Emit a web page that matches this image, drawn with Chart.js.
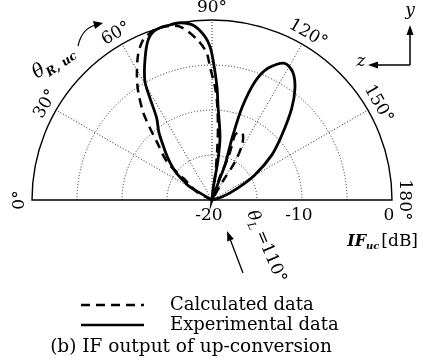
<!DOCTYPE html>
<html>
<head>
<meta charset="utf-8">
<script src="https://cdn.jsdelivr.net/npm/chart.js@4"></script>
<style>
  html, body { margin: 0; padding: 0; background: #fff; }
  canvas { display: block; }
</style>
</head>
<body>
<canvas id="myChart" width="423" height="362"></canvas>
<script>
// polar data: angle in degrees (0 at left, 180 at right), level in dB
const calcAngles = [22, 28, 34.3, 37.2, 40.2, 46.5, 49.3, 51.9, 55.8, 59, 63, 66.5, 70.5, 74, 79.5, 85, 88, 89.1, 91.5, 93, 94.7, 96.1, 97.4, 100, 106, 109, 110.9, 110, 109.5, 112.4, 115.5, 118.6, 121.2, 120, 122];
const calcValues = [-20, -18.1, -17.0, -16.0, -13.5, -11.1, -9.4, -7.6, -5.4, -3.8, -1.9, -0.7, -0.1, 0, -0.4, -2.2, -3.7, -5.2, -7.4, -9.2, -11.9, -14.7, -17.4, -20, -20, -17.0, -15.0, -13.5, -12.3, -11.8, -12.0, -13.0, -15.1, -17.5, -20];

const expAngles = [25, 30, 31, 34, 36.3, 39.4, 44, 48.3, 52, 56, 58.7, 60.6, 64.7, 68.4, 71.7, 76, 80, 84, 87.5, 89.3, 90.4, 92.5, 93.7, 97.2, 98.5, 96, 99, 106, 110, 110.4, 108, 108, 110, 113, 118, 122.3, 126.5, 131, 137.1, 143.1, 149.8, 155.2, 163, 170];
const expValues = [-20, -19.2, -17.0, -16.2, -15.3, -14.4, -13.1, -11.8, -10.4, -9.0, -6.7, -4.8, -2.6, -0.8, -0.1, 0, 0, -0.5, -1.8, -3.0, -4.4, -7.4, -9.6, -12.9, -15.5, -18.6, -20, -20, -17.5, -15.9, -12.8, -9.2, -6.0, -4.1, -2.8, -3.2, -4.5, -6.5, -9.4, -11.7, -14.5, -16.8, -18.8, -20];

const angleTicks = [0, 30, 60, 90, 120, 150, 180];
const gridLevels = [-15, -10, -5];
const levelLabels = [-20, -10, 0];
const rMin = -20;
const rMax = 0;

function toXY(angle, db) {
    let r = Math.max(db, rMin) - rMin;
    let a = angle * Math.PI / 180;
    return { x: -r * Math.cos(a), y: r * Math.sin(a) };
}

const calcPoints = calcAngles.map((a, i) => toXY(a, calcValues[i]));
const expPoints = expAngles.map((a, i) => toXY(a, expValues[i]));

const SERIF = '"DejaVu Serif", serif';

// draws the half-polar grid, tick labels, annotations and legend
const polarFrame = {
    id: 'polarFrame',
    beforeDatasetsDraw(chart) {
        const c = chart.ctx;
        const xs = chart.scales.x, ys = chart.scales.y;
        const cx = xs.getPixelForValue(0), cy = ys.getPixelForValue(0);
        const R = xs.getPixelForValue(rMax - rMin) - cx;
        const px = v => (v - rMin) / (rMax - rMin) * R;
        c.save();
        c.strokeStyle = '#222';
        c.lineWidth = 1;
        c.setLineDash([1, 2]);
        gridLevels.forEach(l => {
            c.beginPath();
            c.arc(cx, cy, px(l), Math.PI, 2 * Math.PI);
            c.stroke();
        });
        angleTicks.filter(a => a > 0 && a < 180).forEach(a => {
            let rad = a * Math.PI / 180;
            c.beginPath();
            c.moveTo(cx, cy);
            c.lineTo(cx - R * Math.cos(rad), cy - R * Math.sin(rad));
            c.stroke();
        });
        c.setLineDash([]);
        c.lineWidth = 1.4;
        c.strokeStyle = '#000';
        c.beginPath();
        c.arc(cx, cy, R, Math.PI, 2 * Math.PI);
        c.closePath();
        c.stroke();
        c.restore();
    },
    afterDraw(chart) {
        const c = chart.ctx;
        const xs = chart.scales.x, ys = chart.scales.y;
        const cx = xs.getPixelForValue(0), cy = ys.getPixelForValue(0);
        const R = xs.getPixelForValue(rMax - rMin) - cx;
        c.save();
        c.fillStyle = '#000';
        c.strokeStyle = '#000';

        // angle labels, tangential
        c.font = '17px ' + SERIF;
        c.textAlign = 'center';
        c.textBaseline = 'middle';
        angleTicks.forEach(a => {
            let rad = a * Math.PI / 180;
            let lr = R + 12;
            c.save();
            c.translate(cx - lr * Math.cos(rad), cy - lr * Math.sin(rad));
            c.rotate((a - 90) * Math.PI / 180);
            c.fillText(a + '°', 0, 0);
            c.restore();
        });

        // level labels
        levelLabels.forEach(l => {
            let x = cx + (l - rMin) / (rMax - rMin) * R;
            c.fillText(String(l), x - 3, cy + 16);
        });

        // IF_uc [dB]
        c.textAlign = 'left';
        c.textBaseline = 'alphabetic';
        let base = cy + 46;
        c.font = 'italic bold 16px ' + SERIF;
        let w1 = c.measureText('IF').width;
        c.font = 'italic bold 10px ' + SERIF;
        let w2 = c.measureText('uc').width;
        c.font = '17px ' + SERIF;
        let w3 = c.measureText('[dB]').width;
        let x0 = 418 - w1 - w2 - w3 - 2;
        c.font = 'italic bold 16px ' + SERIF;
        c.fillText('IF', x0, base);
        c.font = 'italic bold 10px ' + SERIF;
        c.fillText('uc', x0 + w1, base + 3);
        c.font = '17px ' + SERIF;
        c.fillText('[dB]', x0 + w1 + w2 + 2, base);

        // theta_L annotation
        c.save();
        c.translate(247, 213);
        c.rotate(67 * Math.PI / 180);
        c.font = 'italic 17px ' + SERIF;
        c.fillText('θ', 0, 0);
        let tw = c.measureText('θ').width;
        c.font = 'italic 11px ' + SERIF;
        c.fillText('L', tw, 4);
        c.font = '17px ' + SERIF;
        c.fillText(' =110°', tw + 6, 0);
        c.restore();
        arrow(c, 243, 273, 227, 231);

        // theta_R,uc annotation
        c.save();
        c.translate(37, 79);
        c.rotate(-34 * Math.PI / 180);
        c.font = 'italic 19px ' + SERIF;
        c.fillText('θ', 0, 0);
        tw = c.measureText('θ').width;
        c.font = 'italic bold 12px ' + SERIF;
        c.fillText('R, uc', tw, 5);
        c.restore();
        c.lineWidth = 1.2;
        c.beginPath();
        c.moveTo(78, 46);
        c.quadraticCurveTo(82, 28, 96, 25);
        c.stroke();
        c.beginPath();
        c.moveTo(103, 23);
        c.lineTo(93, 21);
        c.lineTo(95, 29);
        c.closePath();
        c.fill();

        // y / z axes sketch
        c.lineWidth = 1.5;
        c.beginPath();
        c.moveTo(410, 65);
        c.lineTo(410, 32);
        c.moveTo(410, 65);
        c.lineTo(376, 65);
        c.stroke();
        c.beginPath();
        c.moveTo(410, 25); c.lineTo(406.5, 35); c.lineTo(413.5, 35); c.closePath();
        c.moveTo(368, 65); c.lineTo(378, 61.5); c.lineTo(378, 68.5); c.closePath();
        c.fill();
        c.font = 'italic 17px ' + SERIF;
        c.textAlign = 'center';
        c.textBaseline = 'middle';
        c.fillText('y', 410, 11);
        c.fillText('z', 361, 62);

        // legend
        const items = [
            { ds: chart.data.datasets[0], y: 305 },
            { ds: chart.data.datasets[1], y: 325 }
        ];
        c.textAlign = 'left';
        c.font = '18px ' + SERIF;
        items.forEach(it => {
            c.lineWidth = 2.6;
            c.setLineDash(it.ds.borderDash || []);
            c.beginPath();
            c.moveTo(81, it.y);
            c.lineTo(144, it.y);
            c.stroke();
            c.setLineDash([]);
            c.fillText(it.ds.label, 170, it.y);
        });
        c.textAlign = 'center';
        c.font = '18.5px ' + SERIF;
        c.fillText('(b) IF output of up-conversion', 191, 347);
        c.restore();
    }
};

function arrow(c, x1, y1, x2, y2) {
    let a = Math.atan2(y2 - y1, x2 - x1);
    c.lineWidth = 1.3;
    c.beginPath();
    c.moveTo(x1, y1);
    c.lineTo(x2 - 8 * Math.cos(a), y2 - 8 * Math.sin(a));
    c.stroke();
    c.beginPath();
    c.moveTo(x2, y2);
    c.lineTo(x2 - 10 * Math.cos(a) + 3.5 * Math.sin(a), y2 - 10 * Math.sin(a) - 3.5 * Math.cos(a));
    c.lineTo(x2 - 10 * Math.cos(a) - 3.5 * Math.sin(a), y2 - 10 * Math.sin(a) + 3.5 * Math.cos(a));
    c.closePath();
    c.fill();
}

const config = {
    type: 'scatter',
    data: {
        datasets: [{
            label: 'Calculated data',
            data: calcPoints,
            showLine: true,
            borderColor: '#000',
            borderWidth: 2.5,
            borderDash: [9, 6],
            pointRadius: 0,
            tension: 0.3,
            clip: false
        }, {
            label: 'Experimental data',
            data: expPoints,
            showLine: true,
            borderColor: '#000',
            borderWidth: 2.8,
            pointRadius: 0,
            tension: 0.3,
            clip: false
        }]
    },
    options: {
        responsive: false,
        animation: false,
        layout: { padding: { left: 32, right: 31, top: 20, bottom: 162 } },
        scales: {
            x: { type: 'linear', min: -20, max: 20, display: false },
            y: { type: 'linear', min: 0, max: 20, display: false }
        },
        plugins: {
            legend: { display: false },
            tooltip: { enabled: false }
        }
    },
    plugins: [polarFrame]
};

const myChart = new Chart(document.getElementById('myChart'), config);
</script>
</body>
</html>
